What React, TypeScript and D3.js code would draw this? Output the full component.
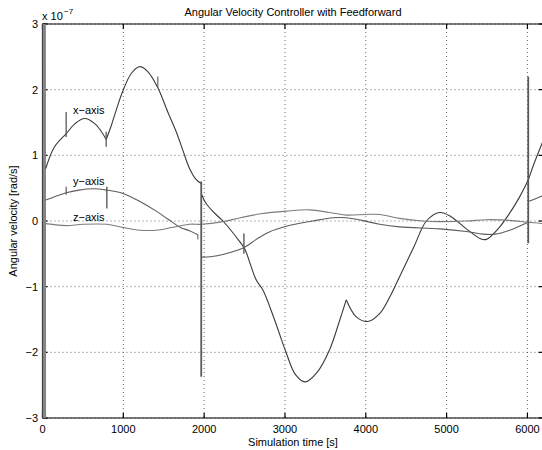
import * as d3 from "d3";

// time [s] and angular velocity [1e-7 rad/s]
type Pt = [number, number];

const X_AXIS_SEGMENTS: Pt[][] = [
  [
    [40, 0.8], [149, 1.13], [293, 1.33], [400, 1.48], [520, 1.56], [650, 1.48], [740, 1.34], [788, 1.24],
  ],
  [
    [788, 1.24], [850, 1.45], [920, 1.72], [994, 1.98], [1100, 2.25], [1200, 2.35], [1300, 2.28],
    [1427, 2.03], [1550, 1.66], [1654, 1.36], [1736, 1.08], [1819, 0.8], [1902, 0.63], [1964, 0.57],
  ],
  [
    [1964, 0.42], [2023, 0.27], [2120, 0.13], [2232, 0.0], [2438, -0.31], [2500, -0.42], [2645, -0.9],
    [2727, -1.05], [2870, -1.5], [3016, -2.01], [3130, -2.34], [3250, -2.45], [3400, -2.3],
    [3552, -1.96], [3680, -1.5], [3758, -1.2],
  ],
  [
    [3758, -1.2], [3882, -1.46], [4026, -1.53], [4171, -1.41], [4300, -1.15], [4418, -0.85],
    [4600, -0.38], [4750, 0.0], [4913, 0.13], [5050, 0.07], [5244, -0.12], [5420, -0.27],
    [5491, -0.28], [5650, -0.1], [5780, 0.12], [5900, 0.36], [6007, 0.62], [6068, 0.83], [6200, 1.24],
  ],
];

const Y_AXIS_SEGMENTS: Pt[][] = [
  [
    [40, 0.32], [150, 0.37], [293, 0.43], [450, 0.47], [623, 0.49], [796, 0.47], [994, 0.42],
    [1200, 0.3], [1407, 0.15], [1550, 0.03], [1696, -0.09], [1819, -0.15], [1922, -0.21],
  ],
  [
    [1964, -0.55], [2100, -0.54], [2232, -0.51], [2400, -0.45], [2500, -0.4], [2645, -0.28],
    [2800, -0.17], [3016, -0.08], [3346, 0.0], [3600, 0.05], [3758, 0.05], [3950, 0.01],
    [4171, -0.05], [4418, -0.09], [4913, -0.12], [5244, -0.16], [5450, -0.2], [5600, -0.2],
    [5780, -0.14], [5900, -0.08], [6007, -0.02],
  ],
  [
    [6020, 0.3], [6100, 0.34], [6200, 0.39],
  ],
];

const Z_AXIS_SEGMENTS: Pt[][] = [
  [
    [40, -0.04], [293, -0.07], [500, -0.05], [796, -0.05], [1000, -0.1], [1200, -0.14], [1407, -0.14],
    [1600, -0.1], [1819, -0.05], [1964, -0.05], [2232, -0.01], [2450, 0.05], [2700, 0.11],
    [3016, 0.15], [3300, 0.17], [3550, 0.13], [3758, 0.09], [4000, 0.1], [4171, 0.1], [4418, 0.04],
    [4700, 0.0], [4913, -0.01], [5244, 0.0], [5491, 0.02], [5780, 0.01], [6007, -0.02], [6200, -0.04],
  ],
];

// start-up transient, oscillating far outside the axis limits
const TRANSIENT_T = [0, 4, 8, 12, 16, 20, 24, 28, 32, 36];
const TRANSIENT_V = [6, -6, 6, -6, 6, -6, 6, -6, 6, -6];

// vertical glitches: time, from, to, weight
const SPIKES: [number, number, number, number][] = [
  [293, 1.66, 1.28, 1.3],
  [788, 1.36, 1.13, 1.3],
  [1427, 2.2, 2.03, 1.1],
  [1964, 0.6, -2.37, 1.8],
  [2492, -0.19, -0.5, 1.4],
  [6010, 2.2, -0.34, 1.8],
  [293, 0.52, 0.4, 1.2],
  [796, 0.52, 0.19, 1.4],
  [1922, -0.2, -0.28, 1.0],
];

const SERIES_NAMES = ["x\u2212axis", "y\u2212axis", "z\u2212axis"];
const SERIES_COLORS = ["#3a3a3a", "#5c5c5c", "#7c7c7c"];
const LABEL_POS: Pt[] = [[377, 1.63], [377, 0.55], [377, 0.0]];

const X_TICKS = [0, 1000, 2000, 3000, 4000, 5000, 6000];
const Y_TICKS = [-3, -2, -1, 0, 1, 2, 3];

const W = 542;
const H = 450;
const FONT = "'Liberation Sans', Arial, Helvetica, sans-serif";
const FS = 11;

export default function App() {
  const x = d3.scaleLinear().domain([0, 6200]).range([42.5, 543.6]);
  const y = d3.scaleLinear().domain([-3, 3]).range([418, 24]);
  const [x0, x1] = x.range();
  const [yb, yt] = y.range();

  const line = d3
    .line<Pt>()
    .x((d) => x(d[0]))
    .y((d) => y(d[1]))
    .curve(d3.curveCatmullRom.alpha(0.5));

  const transient = d3
    .line<number>()
    .x((_, i) => x(TRANSIENT_T[i]))
    .y((v) => y(v));

  const allSeries = [X_AXIS_SEGMENTS, Y_AXIS_SEGMENTS, Z_AXIS_SEGMENTS];
  const fmt = (v: number) => (v < 0 ? "\u2212" + Math.abs(v) : String(v));

  return (
    <svg
      width={W}
      height={H}
      style={{ position: "absolute", left: 0, top: 0, background: "#fff", overflow: "hidden" }}
      fontFamily={FONT}
    >
      <defs>
        <clipPath id="plot">
          <rect x={x0} y={yt} width={x1 - x0} height={yb - yt} />
        </clipPath>
      </defs>

      {/* dotted grid */}
      <g stroke="#444" strokeWidth={0.8} strokeDasharray="1 3">
        {X_TICKS.map((t) => (
          <line key={"gx" + t} x1={x(t)} x2={x(t)} y1={yt} y2={yb} />
        ))}
        {Y_TICKS.map((v) => (
          <line key={"gy" + v} x1={x0} x2={x1} y1={y(v)} y2={y(v)} />
        ))}
      </g>

      {/* box + inward ticks */}
      <g stroke="#000" strokeWidth={1.2} fill="none">
        <line x1={x0} x2={x1} y1={yt} y2={yt} />
        <line x1={x0} x2={x1} y1={yb} y2={yb} />
        <line x1={x0} x2={x0} y1={yt} y2={yb} />
        <line x1={x1} x2={x1} y1={yt} y2={yb} />
        {X_TICKS.map((t) => (
          <g key={"tx" + t}>
            <line x1={x(t)} x2={x(t)} y1={yb} y2={yb - 5} />
            <line x1={x(t)} x2={x(t)} y1={yt} y2={yt + 5} />
          </g>
        ))}
        {Y_TICKS.map((v) => (
          <g key={"ty" + v}>
            <line x1={x0} x2={x0 + 5} y1={y(v)} y2={y(v)} />
            <line x1={x1} x2={x1 - 5} y1={y(v)} y2={y(v)} />
          </g>
        ))}
      </g>

      <g clipPath="url(#plot)" fill="none" strokeLinejoin="round">
        <path d={transient(TRANSIENT_V) ?? ""} stroke="#858585" strokeWidth={1.5} />
        {allSeries.map((segs, si) =>
          segs.map((seg, k) => (
            <path key={si + "-" + k} d={line(seg) ?? ""} stroke={SERIES_COLORS[si]} strokeWidth={1.1} />
          ))
        )}
        {SPIKES.map(([t, a, b, w], i) => (
          <line key={"s" + i} x1={x(t)} x2={x(t)} y1={y(a)} y2={y(b)} stroke="#5a5a5a" strokeWidth={w} />
        ))}
      </g>

      {/* series labels */}
      <g fontSize={FS} fill="#000">
        {LABEL_POS.map(([t, v], i) => (
          <text key={"l" + i} x={x(t)} y={y(v)}>
            {SERIES_NAMES[i]}
          </text>
        ))}
      </g>

      {/* tick labels */}
      <g fontSize={FS} fill="#000">
        {X_TICKS.map((t) => (
          <text key={"lx" + t} x={x(t)} y={433} textAnchor="middle">
            {t}
          </text>
        ))}
        {Y_TICKS.map((v) => (
          <text key={"ly" + v} x={38} y={y(v) + 4} textAnchor="end">
            {fmt(v)}
          </text>
        ))}
      </g>

      {/* exponent */}
      <text x={42} y={20} fontSize={FS}>
        x 10
      </text>
      <text x={64} y={14} fontSize={8}>
        {"\u22127"}
      </text>

      <text x={293} y={15.5} fontSize={FS} textAnchor="middle">
        Angular Velocity Controller with Feedforward
      </text>
      <text x={293} y={446} fontSize={FS} textAnchor="middle">
        Simulation time [s]
      </text>
      <text
        transform={`translate(17,${(yt + yb) / 2}) rotate(-90)`}
        fontSize={FS}
        textAnchor="middle"
      >
        Angular velocity [rad/s]
      </text>
    </svg>
  );
}
